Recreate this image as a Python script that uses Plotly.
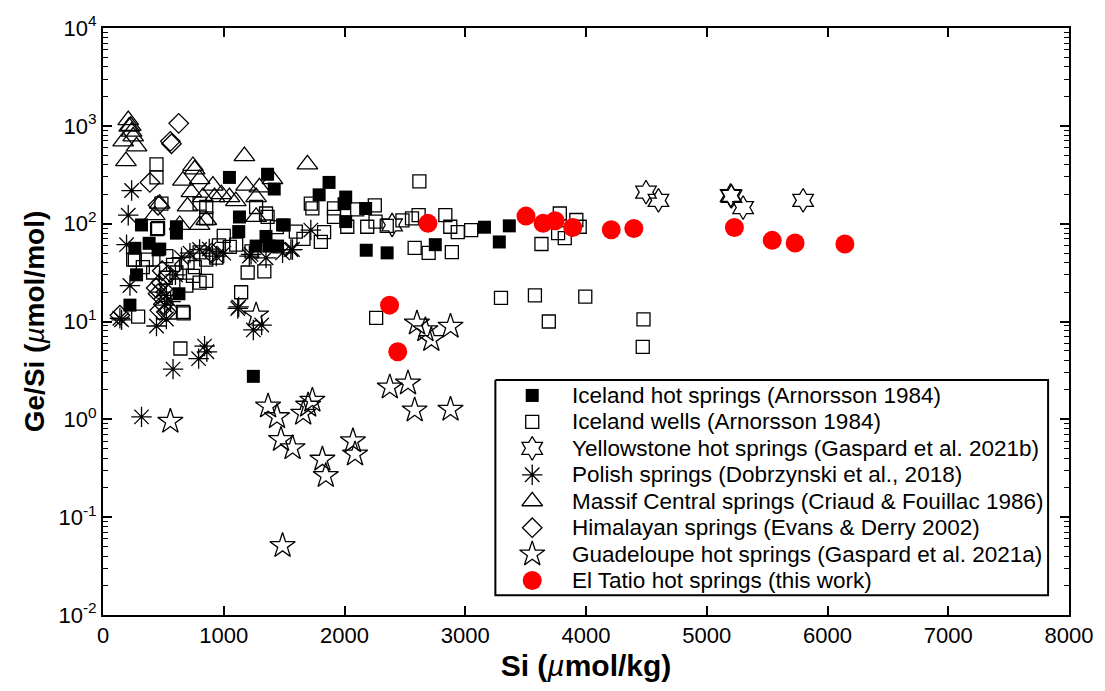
import plotly.graph_objects as go

# Si (umol/kg) and Ge/Si (umol/mol) for each spring group

iceland_hs_si = [1047, 1363, 1418, 1130, 1124, 1350, 1487, 319, 608, 608, 382, 264, 470, 456,
                 1268, 1377, 1446, 278, 223, 629, 1245, 1872, 1790, 2010, 1996, 2175, 2010,
                 1501, 2180, 2353, 2752, 3159, 3365, 3282]
iceland_hs_gesi = [297, 320, 226, 117, 83, 74, 97, 97, 93, 80, 63, 56, 55, 54,
                   59, 59, 59, 30, 14.7, 19.2, 2.75, 264, 197, 187, 160, 143, 105,
                   97, 53.5, 50.3, 61, 92, 95, 65]

iceland_wells_si = [443, 443, 484, 800, 855, 855, 448, 1103, 1268, 1363, 1597, 264, 360, 938,
                    456, 250, 525, 415, 608, 800, 855, 745, 800, 855, 690, 662, 291, 1198,
                    1336, 1144, 1350, 641, 668, 2620, 1721, 1734, 1913, 1913, 2105, 2251,
                    2257, 2188, 2023, 1831, 1804, 2559, 2614, 2835, 2876, 2938, 3049, 2581,
                    2697, 2889, 3631, 3783, 3920, 3824, 3948, 3769, 3296, 3577, 3994, 3692,
                    4476, 4470, 2262, 330, 520, 580, 700, 760, 960, 1050, 1000, 1230, 1440,
                    1660, 2350, 2480]
iceland_wells_gesi = [404, 297, 160, 160, 148, 113, 88, 61, 148, 117.5, 83, 43, 43, 45,
                      90, 43, 46.6, 31.7, 31.7, 51, 43, 29.3, 25, 26, 23.3, 12.5, 11.2, 31.7,
                      32.5, 19.9, 127, 5.3, 12.1, 270, 160, 143, 143, 117.5, 140, 154,
                      105, 93, 93, 82, 65, 113, 122, 122, 93, 82, 86, 56.5,
                      50.3, 51.2, 62, 127, 109, 71, 93, 80, 17.4, 18.5, 18, 10,
                      10.5, 5.5, 10.9, 36, 28, 38, 40, 36, 60, 58, 75, 52, 92,
                      70, 95, 108]

yellowstone_si = [2394, 4497, 4600, 5198, 5205, 5301, 5798]
yellowstone_gesi = [97, 210, 173, 194, 190, 146, 173]

polish_si = [237, 209, 195, 223, 140, 1116, 800, 938, 1226, 1350, 511, 525, 154, 443, 525,
             1124, 1314, 1245, 841, 860, 792, 580, 319, 1721, 1569, 1487, 1556, 1212,
             480, 560, 600, 650, 720, 880, 1000]
polish_gesi = [218, 122, 61, 23.3, 10.8, 13.6, 54.4, 46.6, 48.5, 44.8, 14.7, 18.5, 10.4, 9.0, 10.6,
               14.1, 9.2, 8.2, 5.6, 4.9, 4.17, 3.26, 1.06, 86, 54.4, 50.3, 54.4, 46.6,
               20, 16, 30, 45, 50, 55, 50]

massif_si = [209, 217, 237, 250, 167, 278, 190, 230, 1171, 745, 759, 662, 800, 910, 732, 827,
             924, 1047, 1185, 1295, 1268, 429, 470, 1268, 800, 855, 1404, 635, 1693, 980,
             700, 1100]
massif_gesi = [1143, 981, 874, 779, 694, 618, 436, 1000, 490, 389, 359, 275, 285, 245, 210, 187,
               187, 187, 245, 235, 187, 122, 160, 117.5, 97, 109, 285, 97, 404, 200,
               150, 170]

himalaya_si = [627, 558, 567, 388, 456, 140, 525, 456, 440, 470, 480, 500, 520, 540, 490, 900]
himalaya_gesi = [1060, 694, 656, 264, 154, 11.6, 12.5, 19.2, 22, 13, 25, 15, 20, 30, 33, 50]

guadeloupe_si = [558, 1268, 1367, 1441, 1474, 1570, 1658, 1699, 1734, 1817, 1845, 2070, 2087,
                 2375, 2526, 2581, 2878, 2600, 2670, 2719, 2878, 1487]
guadeloupe_gesi = [0.95, 11.6, 1.36, 1.06, 0.62, 0.51, 1.15, 1.39, 1.56, 0.39, 0.265, 0.60, 0.44,
                   2.13, 2.34, 1.24, 1.26, 9.6, 8.2, 6.5, 8.9, 0.051]

eltatio_si = [2373, 2441, 2691, 3503, 3645, 3744, 3890, 4209, 4396, 5229, 5542, 5732, 6144]
eltatio_gesi = [14.7, 4.9, 100.7, 119.5, 100.7, 107, 91.2, 86.5, 89.1, 91.2, 67.5, 63.4, 61.9]

series = [
    ("Iceland hot springs (Arnorsson 1984)", iceland_hs_si, iceland_hs_gesi,
     dict(symbol="square", size=13, color="black", line=dict(width=0))),
    ("Iceland wells (Arnorsson 1984)", iceland_wells_si, iceland_wells_gesi,
     dict(symbol="square-open", size=13, color="black", line=dict(width=1.3))),
    ("Yellowstone hot springs (Gaspard et al. 2021b)", yellowstone_si, yellowstone_gesi,
     dict(symbol="hexagram-open", size=18, color="black", line=dict(width=1.3))),
    ("Polish springs (Dobrzynski et al., 2018)", polish_si, polish_gesi,
     dict(symbol="asterisk-open", size=17, color="black", line=dict(width=1.3))),
    ("Massif Central springs (Criaud & Fouillac 1986)", massif_si, massif_gesi,
     dict(symbol="triangle-up-open", size=18, color="black", line=dict(width=1.3))),
    ("Himalayan springs (Evans & Derry 2002)", himalaya_si, himalaya_gesi,
     dict(symbol="diamond-open", size=15, color="black", line=dict(width=1.3))),
    ("Guadeloupe hot springs (Gaspard et al. 2021a)", guadeloupe_si, guadeloupe_gesi,
     dict(symbol="star-open", size=19, color="black", line=dict(width=1.3))),
    ("El Tatio hot springs (this work)", eltatio_si, eltatio_gesi,
     dict(symbol="circle", size=19, color="#ff0000", line=dict(width=0))),
]

fig = go.Figure()
for name, xs, ys, marker in series:
    fig.add_trace(go.Scatter(x=xs, y=ys, mode="markers", name=name, marker=marker,
                             showlegend=False))

# Key box drawn on a pixel-unit overlay axis pair (x2/y2) so it sits above the data
box_left, box_right, box_top, box_bottom = 497, 1052, 376, 595
row_first, row_step = 391.7, 26.9
symbol_x, text_x = 534, 571.5

fig.add_trace(go.Scatter(
    x=[box_left, box_right, box_right, box_left, box_left],
    y=[box_top, box_top, box_bottom, box_bottom, box_top],
    mode="lines", fill="toself", fillcolor="white",
    line=dict(color="black", width=2), hoverinfo="skip", showlegend=False,
    xaxis="x2", yaxis="y2",
))

annotations = []
for i, (name, _, _, marker) in enumerate(series):
    row_y = row_first + i * row_step
    fig.add_trace(go.Scatter(
        x=[symbol_x], y=[row_y], mode="markers", marker=marker,
        hoverinfo="skip", showlegend=False, xaxis="x2", yaxis="y2",
    ))
    annotations.append(dict(
        x=text_x, y=row_y, xref="x2", yref="y2", text=name, showarrow=False,
        xanchor="left", yanchor="middle", font=dict(size=22.5, color="black"),
    ))

font_family = "Liberation Sans, Arial, sans-serif"

x_ticks = [0, 1000, 2000, 3000, 4000, 5000, 6000, 7000, 8000]
y_exponents = [-2, -1, 0, 1, 2, 3, 4]
y_minor = [m * 10.0 ** k for k in range(-2, 4) for m in range(2, 10)]

fig.update_layout(
    width=1105, height=691,
    margin=dict(l=103, r=32, t=18, b=76),
    paper_bgcolor="white", plot_bgcolor="white",
    font=dict(family=font_family, size=21, color="black"),
    showlegend=False,
    annotations=annotations,
    xaxis=dict(
        range=[0, 8000], tickmode="array", tickvals=x_ticks,
        ticktext=[str(v) for v in x_ticks], tickfont=dict(size=22),
        ticks="inside", ticklen=9, tickwidth=1.5, tickcolor="black",
        showline=True, linewidth=2, linecolor="black", mirror="ticks",
        showgrid=False, zeroline=False,
        title=dict(text="<b>Si (</b><i>µ</i><b>mol/kg)</b>", font=dict(size=30), standoff=8),
    ),
    yaxis=dict(
        type="log", range=[-2, 4], tickmode="array",
        tickvals=[10.0 ** e for e in y_exponents],
        ticktext=["10<sup>%d</sup>" % e for e in y_exponents], tickfont=dict(size=22),
        ticks="inside", ticklen=9, tickwidth=1.5, tickcolor="black",
        minor=dict(ticks="inside", ticklen=5, tickwidth=1.2, tickcolor="black",
                   tickmode="array", tickvals=y_minor, showgrid=False),
        showline=True, linewidth=2, linecolor="black", mirror="ticks",
        showgrid=False, zeroline=False,
        title=dict(text="<b>Ge/Si (</b><i>µ</i><b>mol/mol)</b>", font=dict(size=28), standoff=6),
    ),
    xaxis2=dict(overlaying="x", range=[103, 1073], visible=False, fixedrange=True),
    yaxis2=dict(overlaying="y", range=[615, 18], visible=False, fixedrange=True),
)

fig.write_html("out.html")
